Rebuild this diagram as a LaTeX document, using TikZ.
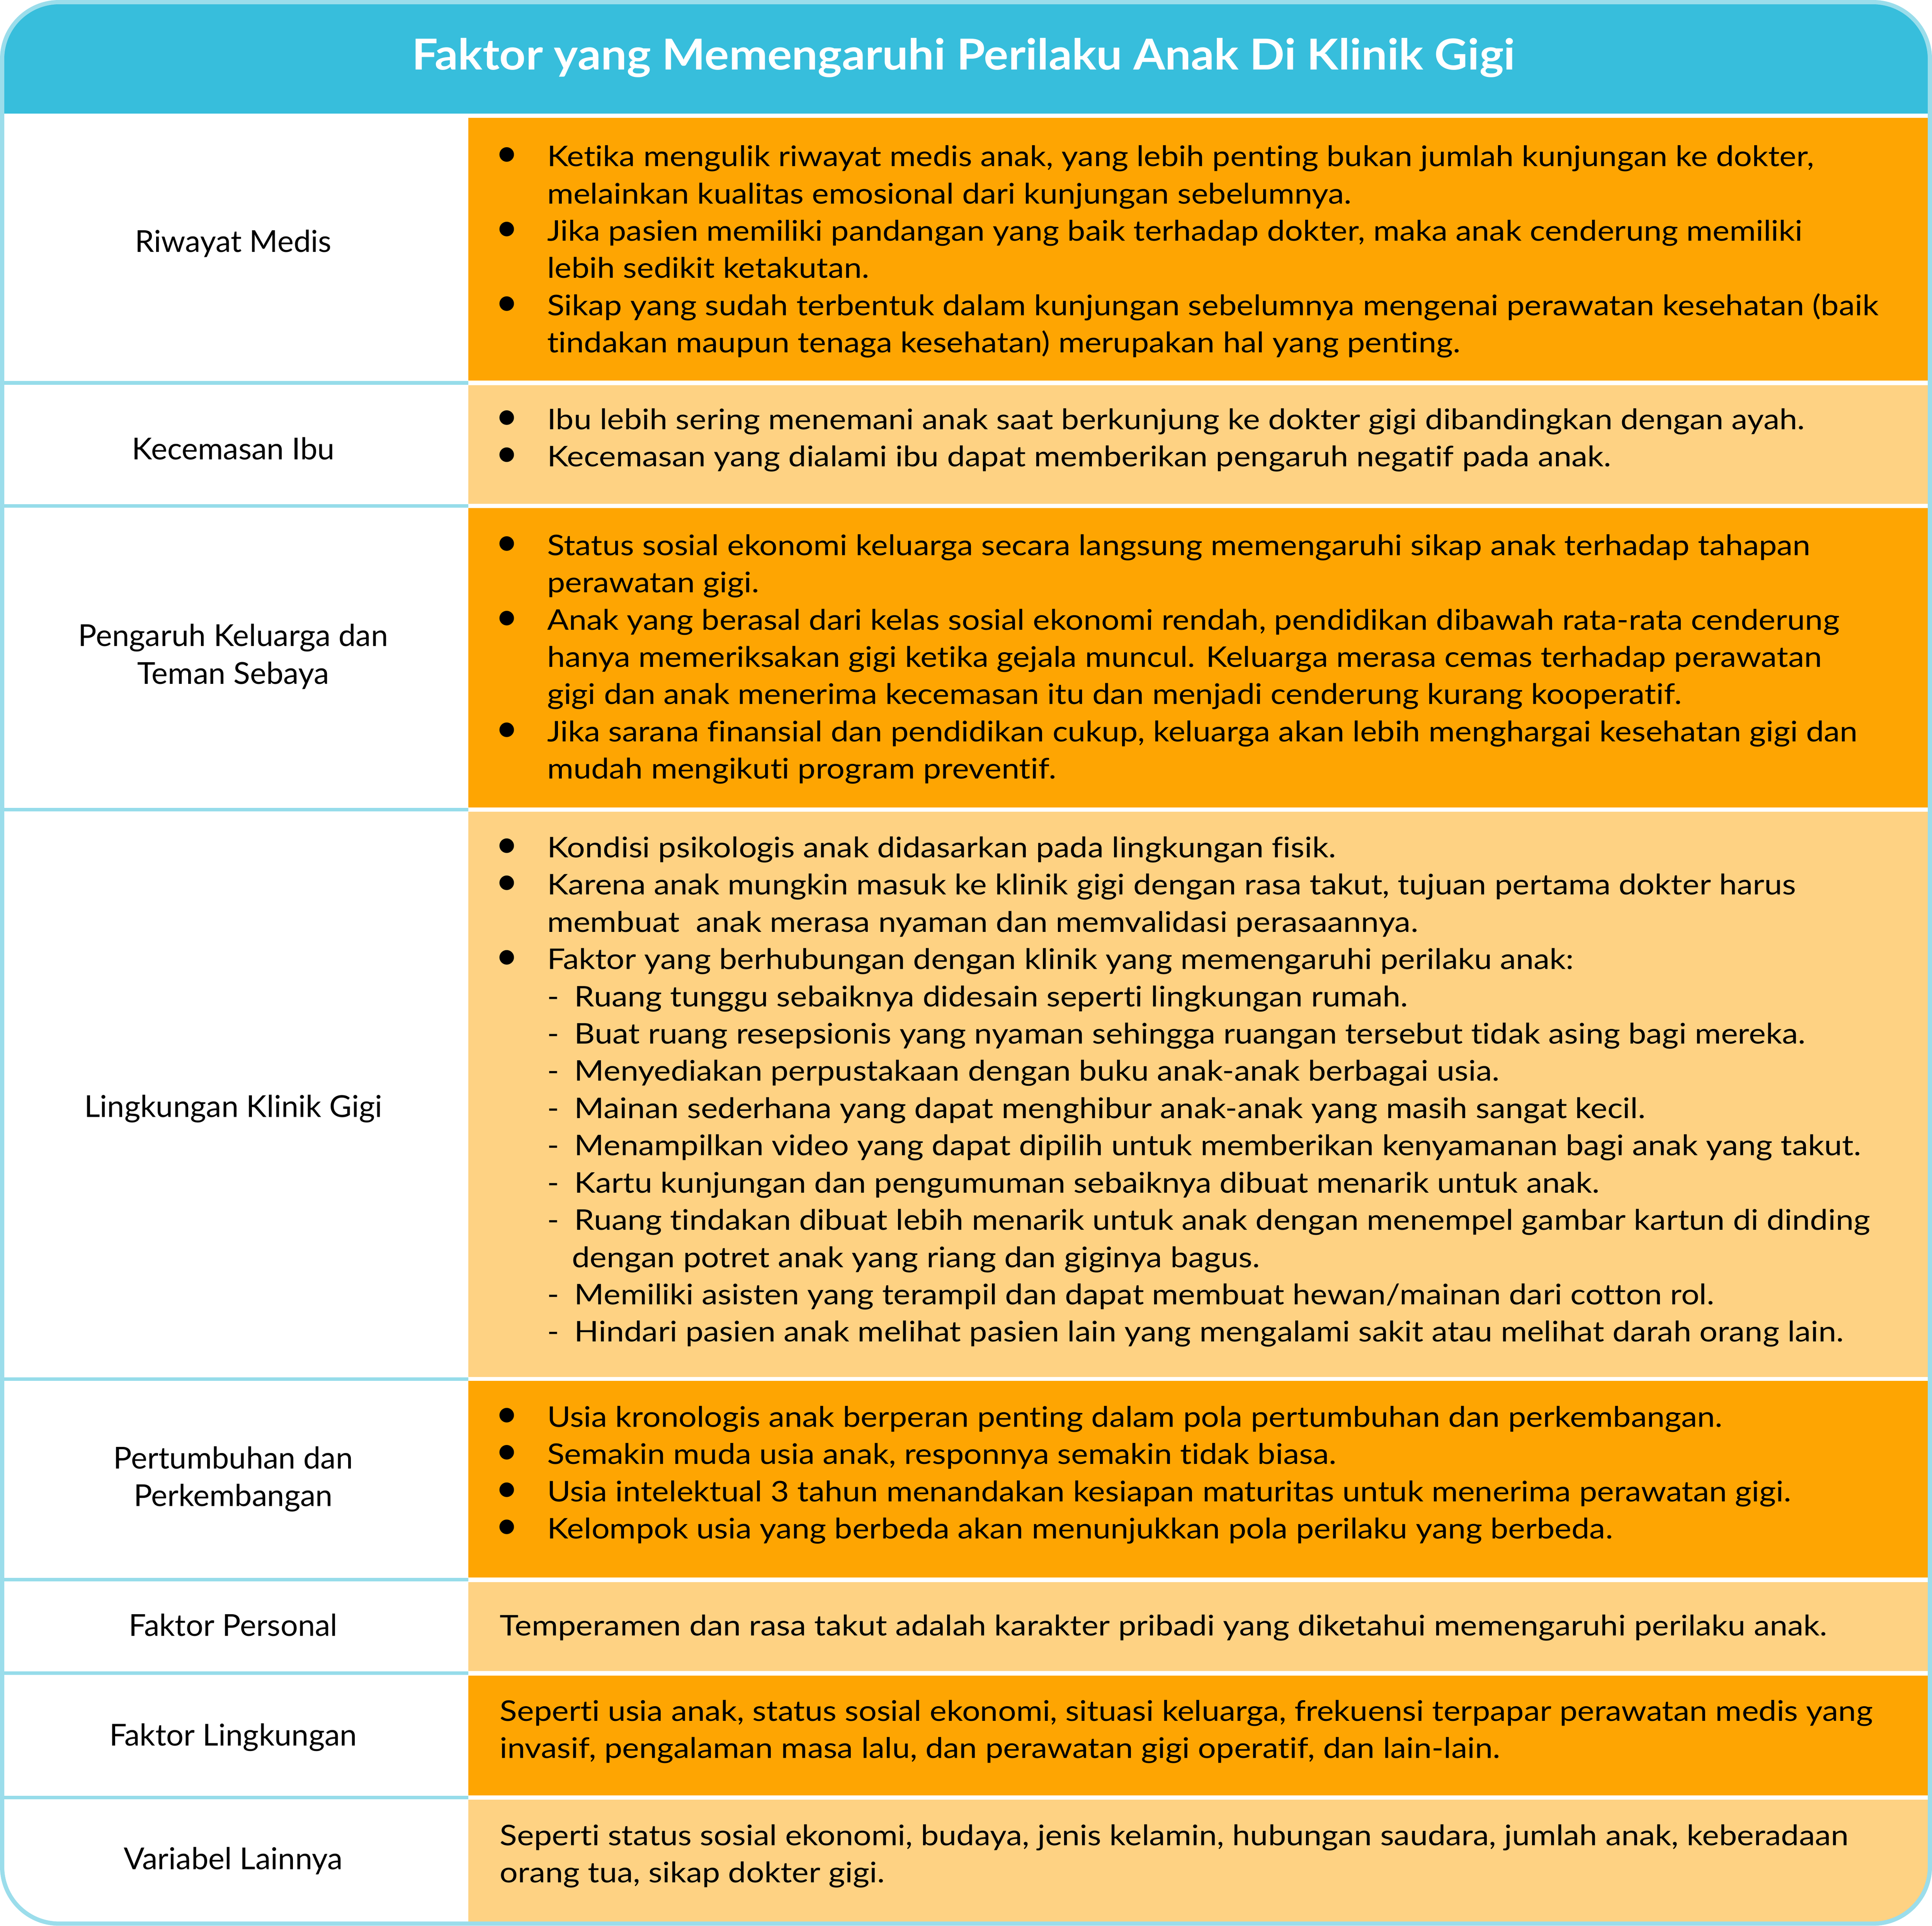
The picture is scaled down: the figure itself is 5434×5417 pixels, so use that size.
\documentclass[tikz,border=0pt]{standalone}
% --- fonts calibrated to the reference line widths (ligatures off, as in the reference) ---
\font\measF="Lato:-liga;-clig;-calt;-dlig" at 8pt
\setbox0=\hbox{\measF Kondisi psikologis anak didasarkan pada lingkungan fisik.}
\pgfmathsetmacro\bodyR{221.9/\the\wd0}
\font\bodyF="Lato:-liga;-clig;-calt;-dlig;extend=\bodyR" at 8pt
\font\measL="Lato:-liga;-clig;-calt;-dlig" at 8.5pt
\setbox0=\hbox{\measL Riwayat Medis}
\pgfmathsetmacro\lblR{55.3/\the\wd0}
\font\lblF="Lato:-liga;-clig;-calt;-dlig;extend=\lblR" at 8.5pt
\font\measT="Lato/B:-liga;-clig;-calt;-dlig" at 12pt
\setbox0=\hbox{\measT Faktor yang Memengaruhi Perilaku Anak Di Klinik Gigi}
\pgfmathsetmacro\ttlR{310.2/\the\wd0}
\font\ttlF="Lato/B:-liga;-clig;-calt;-dlig;extend=\ttlR" at 12pt
\font\bulF="Lato" at 11pt
\newdimen\ux \ux=0.1pt
% --- line builders ---
\newcommand\BL[1]{\hbox{\hbox to 133\ux{\hbox to 40\ux{\hss\bulF\char"2022\hss}\hss}#1}}
\newcommand\CL[1]{\hbox{\hskip133\ux #1}}
\newcommand\DL[1]{\hbox{\hskip133\ux\hbox to 77\ux{-\hss}#1}}
\newcommand\DC[1]{\hbox{\hskip203\ux #1}}
\newcommand\PL[1]{\hbox{#1}}
\newcommand\LL[1]{\hbox to 1200\ux{\hss#1\hss}}
\newcommand\TB[1]{\vtop{\baselineskip=10.48pt #1}}
\newcommand\LB[1]{\vtop{\baselineskip=10.6pt #1}}
\definecolor{hdr}{RGB}{55,190,220}
\definecolor{bord}{RGB}{155,221,235}
\definecolor{sepc}{RGB}{150,220,234}
\definecolor{dk}{RGB}{254,165,2}
\definecolor{lt}{RGB}{254,210,131}
\tikzset{
  body/.style={anchor=base west, inner sep=0pt, outer sep=0pt, font=\bodyF, text=black},
  lbl/.style={anchor=base, inner sep=0pt, outer sep=0pt, font=\lblF, text=black},
  ttl/.style={anchor=base, inner sep=0pt, outer sep=0pt, font=\ttlF, text=white},
  sepline/.style={draw=sepc, line width=1pt},
}
\begin{document}
\begin{tikzpicture}[x=0.1pt,y=-0.1pt]
\useasboundingbox (0,0) rectangle (5434,5417);
\path[fill=white, rounded corners=16pt] (6,6) rectangle (5428,5411);
\begin{scope}
\clip[rounded corners=16pt] (6,6) rectangle (5428,5411);
\fill[hdr] (0,0) rectangle (5434,320);
\fill[dk] (1317,332) rectangle (5434,1071);
\fill[lt] (1317,1083) rectangle (5434,1417);
\fill[dk] (1317,1429) rectangle (5434,2271);
\fill[lt] (1317,2283) rectangle (5434,3873);
\fill[dk] (1317,3884) rectangle (5434,4437);
\fill[lt] (1317,4450) rectangle (5434,4700);
\fill[dk] (1317,4713) rectangle (5434,5050);
\fill[lt] (1317,5062) rectangle (5434,5434);
\end{scope}
\draw[sepline] (12,1077) -- (1317,1077);
\draw[sepline] (12,1423) -- (1317,1423);
\draw[sepline] (12,2277) -- (1317,2277);
\draw[sepline] (12,3879) -- (1317,3879);
\draw[sepline] (12,4443) -- (1317,4443);
\draw[sepline] (12,4706) -- (1317,4706);
\draw[sepline] (12,5056) -- (1317,5056);
\draw[bord, line width=1.2pt, rounded corners=16pt] (6,6) rectangle (5428,5411);

\node[ttl] (title) at (2710,196) {Faktor yang Memengaruhi Perilaku Anak Di Klinik Gigi};

\node[lbl] (l1) at (656,709) {\LB{\LL{Riwayat Medis}}};
\node[lbl] (l2) at (656,1293) {\LB{\LL{Kecemasan Ibu}}};
\node[lbl] (l3) at (656,1818) {\LB{\LL{Pengaruh Keluarga dan}\LL{Teman Sebaya}}};
\node[lbl] (l4) at (656,3142) {\LB{\LL{Lingkungan Klinik Gigi}}};
\node[lbl] (l5) at (656,4131) {\LB{\LL{Pertumbuhan dan}\LL{Perkembangan}}};
\node[lbl] (l6) at (656,4602) {\LB{\LL{Faktor Personal}}};
\node[lbl] (l7) at (656,4911) {\LB{\LL{Faktor Lingkungan}}};
\node[lbl] (l8) at (656,5258) {\LB{\LL{Variabel Lainnya}}};

\node[body] (t1) at (1406,468) {\TB{%
\BL{Ketika mengulik riwayat medis anak, yang lebih penting bukan jumlah kunjungan ke dokter,}%
\CL{melainkan kualitas emosional dari kunjungan sebelumnya.}%
\BL{Jika pasien memiliki pandangan yang baik terhadap dokter, maka anak cenderung memiliki}%
\CL{lebih sedikit ketakutan.}%
\BL{Sikap yang sudah terbentuk dalam kunjungan sebelumnya mengenai perawatan kesehatan (baik}%
\CL{tindakan maupun tenaga kesehatan) merupakan hal yang penting.}}};

\node[body] (t2) at (1406,1208) {\TB{%
\BL{Ibu lebih sering menemani anak saat berkunjung ke dokter gigi dibandingkan dengan ayah.}%
\BL{Kecemasan yang dialami ibu dapat memberikan pengaruh negatif pada anak.}}};

\node[body] (t3) at (1406,1562) {\TB{%
\BL{Status sosial ekonomi keluarga secara langsung memengaruhi sikap anak terhadap tahapan}%
\CL{perawatan gigi.}%
\BL{Anak yang berasal dari kelas sosial ekonomi rendah, pendidikan dibawah rata-rata cenderung}%
\CL{hanya memeriksakan gigi ketika gejala muncul. Keluarga merasa cemas terhadap perawatan}%
\CL{gigi dan anak menerima kecemasan itu dan menjadi cenderung kurang kooperatif.}%
\BL{Jika sarana finansial dan pendidikan cukup, keluarga akan lebih menghargai kesehatan gigi dan}%
\CL{mudah mengikuti program preventif.}}};

\node[body] (t4) at (1406,2412) {\TB{%
\BL{Kondisi psikologis anak didasarkan pada lingkungan fisik.}%
\BL{Karena anak mungkin masuk ke klinik gigi dengan rasa takut, tujuan pertama dokter harus}%
\CL{membuat\space\space anak merasa nyaman dan memvalidasi perasaannya.}%
\BL{Faktor yang berhubungan dengan klinik yang memengaruhi perilaku anak:}%
\DL{Ruang tunggu sebaiknya didesain seperti lingkungan rumah.}%
\DL{Buat ruang resepsionis yang nyaman sehingga ruangan tersebut tidak asing bagi mereka.}%
\DL{Menyediakan perpustakaan dengan buku anak-anak berbagai usia.}%
\DL{Mainan sederhana yang dapat menghibur anak-anak yang masih sangat kecil.}%
\DL{Menampilkan video yang dapat dipilih untuk memberikan kenyamanan bagi anak yang takut.}%
\DL{Kartu kunjungan dan pengumuman sebaiknya dibuat menarik untuk anak.}%
\DL{Ruang tindakan dibuat lebih menarik untuk anak dengan menempel gambar kartun di dinding}%
\DC{dengan potret anak yang riang dan giginya bagus.}%
\DL{Memiliki asisten yang terampil dan dapat membuat hewan/mainan dari cotton rol.}%
\DL{Hindari pasien anak melihat pasien lain yang mengalami sakit atau melihat darah orang lain.}}};

\node[body] (t5) at (1406,4014) {\TB{%
\BL{Usia kronologis anak berperan penting dalam pola pertumbuhan dan perkembangan.}%
\BL{Semakin muda usia anak, responnya semakin tidak biasa.}%
\BL{Usia intelektual 3 tahun menandakan kesiapan maturitas untuk menerima perawatan gigi.}%
\BL{Kelompok usia yang berbeda akan menunjukkan pola perilaku yang berbeda.}}};

\node[body] (t6) at (1406,4601) {\TB{%
\PL{Temperamen dan rasa takut adalah karakter pribadi yang diketahui memengaruhi perilaku anak.}}};

\node[body] (t7) at (1406,4841) {\TB{%
\PL{Seperti usia anak, status sosial ekonomi, situasi keluarga, frekuensi terpapar perawatan medis yang}%
\PL{invasif, pengalaman masa lalu, dan perawatan gigi operatif, dan lain-lain.}}};

\node[body] (t8) at (1406,5191) {\TB{%
\PL{Seperti status sosial ekonomi, budaya, jenis kelamin, hubungan saudara, jumlah anak, keberadaan}%
\PL{orang tua, sikap dokter gigi.}}};
\end{tikzpicture}
\end{document}
